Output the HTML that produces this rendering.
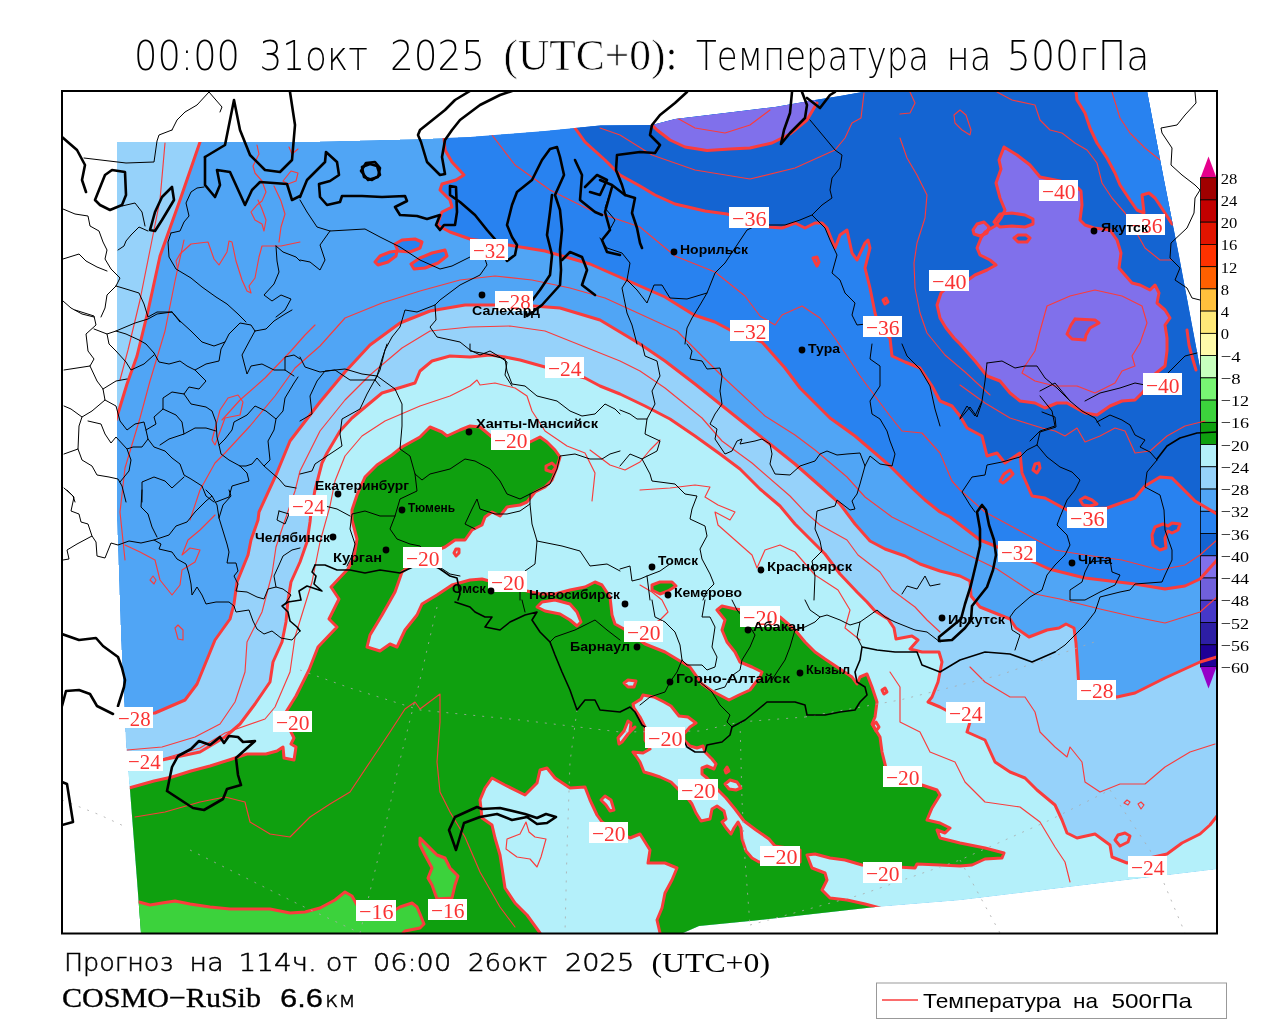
<!DOCTYPE html>
<html lang="ru"><head><meta charset="utf-8"><title>COSMO-RuSib: Температура на 500гПа</title>
<style>html,body{margin:0;padding:0;background:#fff}body{width:1280px;height:1024px;overflow:hidden}svg{display:block}.t{font-family:"Liberation Sans",sans-serif;fill:#000}.x{font-family:"DejaVu Sans Light","DejaVu Sans",sans-serif;font-weight:200;fill:#000}.s{font-family:"Liberation Serif",serif;fill:#000}.c{font-family:"Liberation Sans",sans-serif;font-weight:bold;font-size:13.5px;fill:#000}.l{font-family:"Liberation Serif",serif;font-size:22px;fill:#fa3232}.b{font-family:"Liberation Serif",serif;font-size:15.5px;fill:#000}</style></head><body>
<svg width="1280" height="1024" viewBox="0 0 1280 1024">
<rect width="1280" height="1024" fill="#fff"/>
<defs><clipPath id="dom"><polygon points="117,142 200,142 320,141.5 420,139 470,137 545,131 600,125.5 652,125 675,119 725,113 775,107 815,100 840,96 868,91 1147,91 1163,175 1179,256 1200,368 1217,458 1217,869 1100,883 960,900 880,906.5 813,914 755,920.5 699,926 683,933 141,933 137,880 130,790 126,742 121,640 117,520"/></clipPath><clipPath id="frame"><rect x="62" y="91" width="1155" height="842"/></clipPath></defs>
<g clip-path="url(#dom)" shape-rendering="crispEdges">
<polygon points="117,142 200,142 320,141.5 420,139 470,137 545,131 600,125.5 652,125 675,119 725,113 775,107 815,100 840,96 868,91 1147,91 1163,175 1179,256 1200,368 1217,458 1217,869 1100,883 960,900 880,906.5 813,914 755,920.5 699,926 683,933 141,933 137,880 130,790 126,742 121,640 117,520" fill="#50a5f5" />
<polygon points="117,142 200,142 180,200 160,256 148,311 137,356 127,384 116,420" fill="#96d2fa" />
<polygon points="444,138 445,150 452,162 464,175 456,180 442,184 440,190 450,200 452,207 442,212 437,225 450,232 470,239 508,245 545,251 590,264 640,286 665,297 694,315 715,322 730,330 762,342 785,368 800,388 830,418 855,436 890,466 912,488 925,500 940,512 950,517 980,540 995,546 1034,562 1049,569 1085,578 1135,584 1165,589 1185,586 1200,579 1217,560 1300,560 1300,0 444,0" fill="#2882f0" />
<polygon points="575,128 585,142 605,160 620,175 640,186 655,195 675,204 705,211 727,214 769,227 782,228 795,223 805,228 815,223 822,223 827,228 835,248 840,235 847,230 852,253 857,260 865,243 868,240 870,248 865,268 870,288 875,313 880,330 890,338 892,356 905,362 920,368 932,386 940,401 952,406 960,416 967,428 982,436 987,456 997,453 1005,463 1020,453 1022,473 1032,496 1045,498 1067,510 1107,508 1135,498 1145,486 1160,477 1172,478 1185,491 1195,501 1217,514 1300,514 1300,0 575,0" fill="#1464d2" />
<polygon points="1076,91 1077,100 1085,113 1090,128 1097,143 1107,158 1115,173 1120,185 1130,200 1137,210 1144,213 1142,195 1149,193 1155,198 1165,213 1172,224 1300,224 1300,0 1076,0" fill="#2882f0" />
<polygon points="652,125 657,130 670,140 685,147 707,150.5 730,149 750,148 772,143 790,134 807,120 817,103 815,100 775,107 725,113 675,119" fill="#8070eb" />
<polygon points="1004,147 1017,155 1030,165 1040,177 1060,181 1078,188 1081,191 1082,205 1080,220 1085,225 1094,228 1110,230 1117,240 1121,253 1119,268 1125,275 1132,283 1140,285 1150,290 1155,285 1159,293 1157,303 1165,310 1170,318 1165,325 1167,338 1167,351 1165,366 1155,374 1143,392 1135,400 1122,401 1110,406 1097,415 1085,413 1067,403 1057,403 1045,408 1035,403 1020,401 1010,393 1000,381 987,376 975,361 960,344 954,338 946,328 940,318 937,305 941,293 950,285 968,280 975,275 987,270 996,265 990,260 980,255 977,248 981,238 985,232 995,226 1001,218 1005,210 1000,198 996,183 1001,169 999,160" fill="#8070eb" />
<polygon points="1075,319 1095,320 1099,323 1090,328 1086,335 1085,340 1072,339 1067,334 1071,325" fill="#7060dc" />
<polygon points="126,715 155,713 185,700 197,684 215,640 230,619 234,604 237,582 248,555 251,540 258,520 259,512 276,475 290,441 310,415 320,402 345,372 370,345 400,323 430,311 465,305 520,305 560,308 600,320 640,344 665,361 695,384 720,404 745,424 770,444 795,464 820,486 840,504 855,524 870,541 885,549 905,556 920,564 940,571 960,576 970,581 971,596 980,607 1010,619 1016,628 1029,637 1047,630 1059,628 1066,624 1074,628 1076,643 1078,672 1079,690 1117,697 1135,693 1165,678 1200,662 1217,657 1217,869 1217,933 62,933 62,715" fill="#96d2fa" />
<polygon points="128,760 162,760 200,752 225,737 240,724 255,704 270,682 273,662 282,642 286,622 288,600 291,582 300,562 307,542 310,522 311,512 315,490 322,463 327,453 340,431 352,418 370,403 382,393 402,387 415,383 420,371 432,361 450,356 470,357 490,355 505,357 520,360 545,367 585,378 600,386 620,394 645,406 670,419 695,436 720,454 740,469 760,489 780,506 795,524 810,539 825,554 840,574 857,592 867,602 875,611 888,619 894,628 896,639 912,636 918,640 910,649 922,652 939,652 942,662 938,682 932,697 928,702 940,707 955,715 970,722 967,732 985,740 995,762 1010,772 1025,778 1037,790 1055,805 1062,820 1067,833 1077,838 1095,834 1110,845 1112,857 1127,863 1167,854 1182,843 1200,834 1210,825 1217,816 1217,869 1217,933 62,933 62,760" fill="#b4f0fa" />
<polygon points="129,788 154,781 172,777 191,771 210,766 229,760 247,754 266,754 277,751 283,747 284,758 294,760 296,747 291,744 294,738 290,730 286,712 296,696 309,670 318,647 337,627 329,619 339,599 331,587 348,569 354,557 357,539 352,520 352,510 357,495 365,477 377,465 392,455 402,447 420,437 430,427 442,432 447,436 460,430 470,426 480,427 492,437 530,442 540,437 547,442 555,450 560,457 557,467 552,480 545,487 535,492 527,502 520,505 507,507 500,516 492,512 485,517 482,525 472,530 465,540 455,540 445,547 425,555 402,572 395,592 382,615 370,635 367,647 380,651 390,644 397,647 405,630 417,615 422,604 437,595 452,585 470,580 482,579 527,591 540,594 555,594 570,590 585,587 595,582 602,585 610,597 612,615 615,624 624,629 645,644 665,652 690,667 702,684 712,691 729,700 739,695 750,690 756,682 760,677 762,672 752,667 740,662 735,652 727,642 722,630 725,620 717,610 722,606 735,609 760,612 780,617 795,630 805,642 815,652 825,659 840,669 852,677 857,684 860,677 867,674 872,687 877,702 875,717 872,724 880,737 882,752 886,768 922,785 937,790 940,795 932,808 927,820 940,823 950,828 945,833 937,830 940,838 960,843 985,848 1004,853 1002,858 985,859 972,865 960,866 940,865 917,864 915,868 862,865 845,860 830,858 815,854 807,855 812,868 825,873 827,880 822,890 830,898 847,900 865,904 880,908 880,940 62,940 62,788" fill="#0fa00f" />
<polygon points="537,607 542,602 555,600 570,604 577,612 581,622 577,626 570,620 560,614 545,611" fill="#b4f0fa" />
<polygon points="540,933 527,915 515,903 505,888 502,868 500,855 495,838 492,825 482,818 480,800 485,788 492,778 505,785 525,795 537,783 540,770 547,768 555,778 570,788 585,787 590,800 597,815 602,822 630,838 640,834 650,850 648,863 665,863 677,868 672,880 665,893 662,908 657,920 660,933" fill="#b4f0fa" />
<polygon points="643,695 654,697 664,702 671,706 679,716 688,717 696,723 690,727 684,734 684,740 690,746 697,748 703,746 705,752 712,759 716,764 714,769 707,766 702,768 702,774 707,778 718,790 726,798 735,809 744,821 756,830 769,839 775,846 800,850 800,862 759,862 752,858 746,851 742,839 741,828 738,822 734,828 731,834 726,828 722,822 726,819 724,811 717,806 712,809 710,819 701,821 696,813 692,804 689,800 678,789 671,782 660,777 651,774 644,772 640,762 636,756 633,752 643,753 650,749 645,740 645,727 640,717 634,708 633,704 641,699" fill="#b4f0fa" />
<polygon points="139,902 150,905 162,903 175,901 190,904 210,907 230,909 250,909 270,909 290,913 305,912 320,908 335,900 345,892 352,896 357,905 395,910 400,907 412,903 417,907 420,914 424,924 420,928 405,931 403,933 403,940 62,940 62,902" fill="#3cd23c" />
<polygon points="420,838 428,846 437,855 445,858 450,868 458,876 455,885 452,898 437,899 432,885 428,878 432,868 425,855 420,845" fill="#3cd23c" />
<polygon points="375,262 380,256 390,252 397,251 396,256 388,262 378,265" fill="#2882f0" />
<polygon points="395,244 402,240 415,239 422,242 420,248 410,252 398,251" fill="#2882f0" />
<polygon points="411,264 420,258 432,253 445,250 447,256 438,263 425,268 414,269" fill="#2882f0" />
<polygon points="973,230 977,224 984,222 989,227 987,233 980,236 974,234" fill="#8070eb" />
<polygon points="994,222 1000,214 1012,213 1025,215 1033,219 1033,224 1025,227 1012,226 1000,227" fill="#1464d2" />
<polygon points="1014,238 1018,235 1026,235 1030,238 1027,242 1018,242" fill="#1464d2" />
<polygon points="1152,535 1155,527 1163,524 1168,526 1172,523 1180,524 1178,530 1172,533 1168,531 1165,538 1166,548 1160,550 1153,545" fill="#1464d2" />
<polygon points="652,585 660,582 672,582 676,586 668,591 660,594 652,590" fill="#0fa00f" />
<polygon points="725,784 730,780 737,782 741,788 736,790 729,789" fill="#b4f0fa" />
<polygon points="619,744 618,738 624,731 628,721 631,723 630,731 635,727 628,734 622,742" fill="#b4f0fa" />
<polygon points="601,800 605,796 611,800 614,810 610,811 606,805" fill="#b4f0fa" />
<polygon points="624,683 628,680 636,681 634,687 628,687" fill="#b4f0fa" />
</g>
<polygon points="1208.5,156.5 1216.5,177.7 1200.5,177.7" fill="#e6008c"/>
<rect x="1200.5" y="177.7" width="16" height="22.2" fill="#a00000" stroke="#000" stroke-width="0.8"/>
<rect x="1200.5" y="199.9" width="16" height="22.2" fill="#c30000" stroke="#000" stroke-width="0.8"/>
<rect x="1200.5" y="222.2" width="16" height="22.2" fill="#e11400" stroke="#000" stroke-width="0.8"/>
<rect x="1200.5" y="244.4" width="16" height="22.2" fill="#ff3200" stroke="#000" stroke-width="0.8"/>
<rect x="1200.5" y="266.7" width="16" height="22.2" fill="#ff6000" stroke="#000" stroke-width="0.8"/>
<rect x="1200.5" y="288.9" width="16" height="22.2" fill="#ffc03c" stroke="#000" stroke-width="0.8"/>
<rect x="1200.5" y="311.1" width="16" height="22.2" fill="#ffe878" stroke="#000" stroke-width="0.8"/>
<rect x="1200.5" y="333.4" width="16" height="22.2" fill="#fffaaa" stroke="#000" stroke-width="0.8"/>
<rect x="1200.5" y="355.6" width="16" height="22.2" fill="#c8ffbe" stroke="#000" stroke-width="0.8"/>
<rect x="1200.5" y="377.9" width="16" height="22.2" fill="#78f573" stroke="#000" stroke-width="0.8"/>
<rect x="1200.5" y="400.1" width="16" height="22.2" fill="#3cd23c" stroke="#000" stroke-width="0.8"/>
<rect x="1200.5" y="422.4" width="16" height="22.2" fill="#0fa00f" stroke="#000" stroke-width="0.8"/>
<rect x="1200.5" y="444.6" width="16" height="22.2" fill="#b4f0fa" stroke="#000" stroke-width="0.8"/>
<rect x="1200.5" y="466.8" width="16" height="22.2" fill="#96d2fa" stroke="#000" stroke-width="0.8"/>
<rect x="1200.5" y="489.1" width="16" height="22.2" fill="#50a5f5" stroke="#000" stroke-width="0.8"/>
<rect x="1200.5" y="511.3" width="16" height="22.2" fill="#2882f0" stroke="#000" stroke-width="0.8"/>
<rect x="1200.5" y="533.6" width="16" height="22.2" fill="#1464d2" stroke="#000" stroke-width="0.8"/>
<rect x="1200.5" y="555.8" width="16" height="22.2" fill="#8070eb" stroke="#000" stroke-width="0.8"/>
<rect x="1200.5" y="578" width="16" height="22.2" fill="#7060dc" stroke="#000" stroke-width="0.8"/>
<rect x="1200.5" y="600.3" width="16" height="22.2" fill="#4638c8" stroke="#000" stroke-width="0.8"/>
<rect x="1200.5" y="622.5" width="16" height="22.2" fill="#2d1ea5" stroke="#000" stroke-width="0.8"/>
<rect x="1200.5" y="644.8" width="16" height="22.2" fill="#1e0096" stroke="#000" stroke-width="0.8"/>
<polygon points="1200.5,667 1216.5,667 1208.5,688.5" fill="#9600c8"/>
<g clip-path="url(#dom)">
<polyline points="165,143 160,200 150,250 140,300 128,350 120,380" fill="none" stroke="#fa3c3c" stroke-width="1.15" stroke-linejoin="round" stroke-linecap="round" />
<polyline points="184,240 175,281 165,331 150,381 140,418 125,468 120,512 125,560" fill="none" stroke="#fa3c3c" stroke-width="1.15" stroke-linejoin="round" stroke-linecap="round" />
<polyline points="190,520 200,490 215,463 225,453 250,426 275,396 295,368 320,346 345,318 382,303 420,291 460,280 495,276 532,280 570,288 605,298 640,314 677,331 722,376 765,416 795,435 815,450 847,477 865,497 892,517 922,532 960,551 997,569 1035,594 1060,599 1100,609 1135,617 1165,623 1200,612 1217,597" fill="none" stroke="#fa3c3c" stroke-width="1.15" stroke-linejoin="round" stroke-linecap="round" />
<polyline points="127,750 162,747 195,737 220,724 235,702 245,672 247,642 262,612 272,574 276,547 285,520 295,491 300,471 320,431 345,400 370,375 402,348 430,331 470,327 510,326 545,331 570,341 595,351 620,361 640,371 665,388 702,418 722,441 752,463 790,496 805,512 820,525 847,540 858,555 880,572 892,590 915,607 927,620 940,632" fill="none" stroke="#fa3c3c" stroke-width="1.15" stroke-linejoin="round" stroke-linecap="round" />
<polyline points="162,759 200,748 225,733 265,719 275,707 290,672 295,637 312,582 320,542 330,506 335,481 345,456 362,436 385,421 420,406 450,396 470,386 477,380 480,385 495,383 515,388 527,396 532,411 545,431 567,446 585,453 595,473 592,501" fill="none" stroke="#fa3c3c" stroke-width="1.15" stroke-linejoin="round" stroke-linecap="round" />
<polyline points="492,135 515,165 550,190 590,210 640,227 675,256 715,272 745,296 760,316 775,325 782,315 802,306 820,318 835,338 847,356 860,376 875,396 890,416 902,431 922,433 940,453 952,481 960,490 985,512 1022,532 1055,550 1085,555 1122,560 1160,570 1185,565 1200,555 1217,540" fill="none" stroke="#fa3c3c" stroke-width="1.15" stroke-linejoin="round" stroke-linecap="round" />
<polyline points="600,128 620,135 652,155 695,170 750,179 795,168 835,150 845,138 852,123 861,118 864,93" fill="none" stroke="#fa3c3c" stroke-width="1.15" stroke-linejoin="round" stroke-linecap="round" />
<polyline points="677,118 695,128 725,133 750,125 770,110" fill="none" stroke="#fa3c3c" stroke-width="1.15" stroke-linejoin="round" stroke-linecap="round" />
<polyline points="997,92 1012,100 1035,105 1040,120 1050,130 1062,133 1075,143 1087,150 1097,163 1102,183 1112,198 1125,213 1135,230 1145,248 1160,260 1172,260" fill="none" stroke="#fa3c3c" stroke-width="1.15" stroke-linejoin="round" stroke-linecap="round" />
<polyline points="1112,92 1120,118 1130,133 1145,148 1160,160" fill="none" stroke="#fa3c3c" stroke-width="1.15" stroke-linejoin="round" stroke-linecap="round" />
<polyline points="900,138 907,158 917,175 927,195 925,218 917,243 914,263 915,288 920,313 927,333 945,355 965,372 990,395" fill="none" stroke="#fa3c3c" stroke-width="1.15" stroke-linejoin="round" stroke-linecap="round" />
<polyline points="910,92 915,103 910,113 900,114" fill="none" stroke="#fa3c3c" stroke-width="1.15" stroke-linejoin="round" stroke-linecap="round" />
<polyline points="954,115 960,110 966,115 971,130 970,135 962,130 955,123 954,115" fill="none" stroke="#fa3c3c" stroke-width="1.15" stroke-linejoin="round" stroke-linecap="round" />
<polyline points="960,385 985,403 1010,418 1042,428 1055,431 1065,436 1077,428 1085,442 1100,436 1115,428 1125,431 1135,453 1150,451 1167,436 1185,426 1205,421" fill="none" stroke="#fa3c3c" stroke-width="1.15" stroke-linejoin="round" stroke-linecap="round" />
<polyline points="1047,306 1070,296 1095,290 1122,296 1142,306 1147,323 1140,343 1132,356 1135,366 1122,371 1115,383 1095,393 1077,386 1055,386 1035,381 1022,373 1025,366 1035,351 1040,331 1047,306" fill="none" stroke="#fa3c3c" stroke-width="1.15" stroke-linejoin="round" stroke-linecap="round" />
<polyline points="135,817 165,812 200,802 225,797 245,802 250,822 270,834 290,837 310,817 330,804 350,792 370,762 390,732 405,709 415,702 420,709 440,694 440,722 437,762 440,792 450,812 465,837 480,872 500,907 515,927" fill="none" stroke="#fa3c3c" stroke-width="1.15" stroke-linejoin="round" stroke-linecap="round" />
<polyline points="1124,803 1127,800 1130,802 1128,805 1124,803" fill="none" stroke="#fa3c3c" stroke-width="1.15" stroke-linejoin="round" stroke-linecap="round" />
<polyline points="1138,804 1141,802 1144,805 1141,809 1138,804" fill="none" stroke="#fa3c3c" stroke-width="1.15" stroke-linejoin="round" stroke-linecap="round" />
<polyline points="970,667 985,682 1010,697 1025,697 1035,712 1040,732 1055,747 1067,757 1070,747 1082,762 1085,782 1100,792 1120,784 1145,784 1165,767 1190,752 1215,744" fill="none" stroke="#fa3c3c" stroke-width="1.15" stroke-linejoin="round" stroke-linecap="round" />
<polyline points="890,672 900,687 900,722 920,732 930,752 955,762 965,782 985,802 1020,807 1040,822 1055,847 1065,862 1070,882" fill="none" stroke="#fa3c3c" stroke-width="1.15" stroke-linejoin="round" stroke-linecap="round" />
<polyline points="640,490 670,488 695,485 710,487 705,497 718,505 735,512 730,520 715,512 718,525 735,540 752,555 757,568 765,550 780,545 795,552 815,575 838,590 850,610 845,628 860,640" fill="none" stroke="#fa3c3c" stroke-width="1.15" stroke-linejoin="round" stroke-linecap="round" />
<polyline points="178,271 176,261 180,254 191,244 208,242 214,259 219,265 227,252 229,241 232,242 236,261 242,280 247,291 251,293 249,286 255,278 259,257 262,246 281,246 300,242" fill="none" stroke="#fa3c3c" stroke-width="1.15" stroke-linejoin="round" stroke-linecap="round" />
<polyline points="257,145 259,154 253,166 255,173 262,181 266,192 262,201 257,205 251,212 255,220 262,224 264,231 266,220 262,209 258,200" fill="none" stroke="#fa3c3c" stroke-width="1.15" stroke-linejoin="round" stroke-linecap="round" />
<polyline points="274,186 281,201 285,214 281,227 279,242" fill="none" stroke="#fa3c3c" stroke-width="1.15" stroke-linejoin="round" stroke-linecap="round" />
<polyline points="289,147 292,154 298,149" fill="none" stroke="#fa3c3c" stroke-width="1.15" stroke-linejoin="round" stroke-linecap="round" />
<polyline points="283,181 291,171 298,173 296,181 288,184 283,181" fill="none" stroke="#fa3c3c" stroke-width="1.15" stroke-linejoin="round" stroke-linecap="round" />
<polyline points="215,445 225,418 240,415 243,402 238,395 228,398 220,410 212,440 215,445" fill="none" stroke="#fa3c3c" stroke-width="1.15" stroke-linejoin="round" stroke-linecap="round" />
<polyline points="222,420 240,400 265,378 290,352 305,335 315,325" fill="none" stroke="#fa3c3c" stroke-width="1.15" stroke-linejoin="round" stroke-linecap="round" />
<polyline points="125,545 140,552 155,560 160,580 172,595 180,585 182,570 195,562 200,550 190,548 182,555 188,540 200,530 210,520 215,515" fill="none" stroke="#fa3c3c" stroke-width="1.15" stroke-linejoin="round" stroke-linecap="round" />
<polyline points="150,580 153,576 156,580 154,584 150,580" fill="none" stroke="#fa3c3c" stroke-width="1.15" stroke-linejoin="round" stroke-linecap="round" />
<polyline points="175,628 178,625 183,630 183,640 178,639 175,628" fill="none" stroke="#fa3c3c" stroke-width="1.15" stroke-linejoin="round" stroke-linecap="round" />
<polyline points="526,822 520,834 507,839 506,849 517,857 530,859 537,867 541,857 546,839 535,837 529,832 526,822" fill="none" stroke="#fa3c3c" stroke-width="1.15" stroke-linejoin="round" stroke-linecap="round" />
<polyline points="640,585 652,592 662,600 668,612 660,620 650,625" fill="none" stroke="#fa3c3c" stroke-width="1.15" stroke-linejoin="round" stroke-linecap="round" />
<polyline points="590,450 610,465 625,470 640,462 650,450 660,440" fill="none" stroke="#fa3c3c" stroke-width="1.15" stroke-linejoin="round" stroke-linecap="round" />
<polyline points="1120,933 1140,915 1165,905 1190,903 1217,901" fill="none" stroke="#fa3c3c" stroke-width="1.15" stroke-linejoin="round" stroke-linecap="round" />
</g>
<g clip-path="url(#dom)">
<polyline points="200,142 180,200 160,256 148,311 137,356 127,384 116,420" fill="none" stroke="#fa3c3c" stroke-width="3" stroke-linejoin="round" stroke-linecap="round" />
<polyline points="126,715 155,713 185,700 197,684 215,640 230,619 234,604 237,582 248,555 251,540 258,520 259,512 276,475 290,441 310,415 320,402 345,372 370,345 400,323 430,311 465,305 520,305 560,308 600,320 640,344 665,361 695,384 720,404 745,424 770,444 795,464 820,486 840,504 855,524 870,541 885,549 905,556 920,564 940,571 960,576 970,581 971,596 980,607 1010,619 1016,628 1029,637 1047,630 1059,628 1066,624 1074,628 1076,643 1078,672 1079,690 1117,697 1135,693 1165,678 1200,662 1217,657" fill="none" stroke="#fa3c3c" stroke-width="3" stroke-linejoin="round" stroke-linecap="round" />
<polyline points="128,760 162,760 200,752 225,737 240,724 255,704 270,682 273,662 282,642 286,622 288,600 291,582 300,562 307,542 310,522 311,512 315,490 322,463 327,453 340,431 352,418 370,403 382,393 402,387 415,383 420,371 432,361 450,356 470,357 490,355 505,357 520,360 545,367 585,378 600,386 620,394 645,406 670,419 695,436 720,454 740,469 760,489 780,506 795,524 810,539 825,554 840,574 857,592 867,602 875,611 888,619 894,628 896,639 912,636 918,640 910,649 922,652 939,652 942,662 938,682 932,697 928,702 940,707 955,715 970,722 967,732 985,740 995,762 1010,772 1025,778 1037,790 1055,805 1062,820 1067,833 1077,838 1095,834 1110,845 1112,857 1127,863 1167,854 1182,843 1200,834 1210,825 1217,816" fill="none" stroke="#fa3c3c" stroke-width="3" stroke-linejoin="round" stroke-linecap="round" />
<polyline points="444,138 445,150 452,162 464,175 456,180 442,184 440,190 450,200 452,207 442,212 437,225 450,232 470,239 508,245 545,251 590,264 640,286 665,297 694,315 715,322 730,330 762,342 785,368 800,388 830,418 855,436 890,466 912,488 925,500 940,512 950,517 980,540 995,546 1034,562 1049,569 1085,578 1135,584 1165,589 1185,586 1200,579 1217,560" fill="none" stroke="#fa3c3c" stroke-width="3" stroke-linejoin="round" stroke-linecap="round" />
<polyline points="575,128 585,142 605,160 620,175 640,186 655,195 675,204 705,211 727,214 769,227 782,228 795,223 805,228 815,223 822,223 827,228 835,248 840,235 847,230 852,253 857,260 865,243 868,240 870,248 865,268 870,288 875,313 880,330 890,338 892,356 905,362 920,368 932,386 940,401 952,406 960,416 967,428 982,436 987,456 997,453 1005,463 1020,453 1022,473 1032,496 1045,498 1067,510 1107,508 1135,498 1145,486 1160,477 1172,478 1185,491 1195,501 1217,514" fill="none" stroke="#fa3c3c" stroke-width="3" stroke-linejoin="round" stroke-linecap="round" />
<polyline points="1076,91 1077,100 1085,113 1090,128 1097,143 1107,158 1115,173 1120,185 1130,200 1137,210 1144,213 1142,195 1149,193 1155,198 1165,213 1172,224" fill="none" stroke="#fa3c3c" stroke-width="3" stroke-linejoin="round" stroke-linecap="round" />
<polyline points="652,125 657,130 670,140 685,147 707,150.5 730,149 750,148 772,143 790,134 807,120 817,103" fill="none" stroke="#fa3c3c" stroke-width="3" stroke-linejoin="round" stroke-linecap="round" />
<polyline points="1004,147 1017,155 1030,165 1040,177 1060,181 1078,188 1081,191 1082,205 1080,220 1085,225 1094,228 1110,230 1117,240 1121,253 1119,268 1125,275 1132,283 1140,285 1150,290 1155,285 1159,293 1157,303 1165,310 1170,318 1165,325 1167,338 1167,351 1165,366 1155,374 1143,392 1135,400 1122,401 1110,406 1097,415 1085,413 1067,403 1057,403 1045,408 1035,403 1020,401 1010,393 1000,381 987,376 975,361 960,344 954,338 946,328 940,318 937,305 941,293 950,285 968,280 975,275 987,270 996,265 990,260 980,255 977,248 981,238 985,232 995,226 1001,218 1005,210 1000,198 996,183 1001,169 999,160 1004,147" fill="none" stroke="#fa3c3c" stroke-width="3" stroke-linejoin="round" stroke-linecap="round" />
<polyline points="1075,319 1095,320 1099,323 1090,328 1086,335 1085,340 1072,339 1067,334 1071,325 1075,319" fill="none" stroke="#fa3c3c" stroke-width="3" stroke-linejoin="round" stroke-linecap="round" />
<polyline points="129,788 154,781 172,777 191,771 210,766 229,760 247,754 266,754 277,751 283,747 284,758 294,760 296,747 291,744 294,738 290,730 286,712 296,696 309,670 318,647 337,627 329,619 339,599 331,587 348,569 354,557 357,539 352,520 352,510 357,495 365,477 377,465 392,455 402,447 420,437 430,427 442,432 447,436 460,430 470,426 480,427 492,437 530,442 540,437 547,442 555,450 560,457 557,467 552,480 545,487 535,492 527,502 520,505 507,507 500,516 492,512 485,517 482,525 472,530 465,540 455,540 445,547 425,555 402,572 395,592 382,615 370,635 367,647 380,651 390,644 397,647 405,630 417,615 422,604 437,595 452,585 470,580 482,579 527,591 540,594 555,594 570,590 585,587 595,582 602,585 610,597 612,615 615,624 624,629 645,644 665,652 690,667 702,684 712,691 729,700 739,695 750,690 756,682 760,677 762,672 752,667 740,662 735,652 727,642 722,630 725,620 717,610 722,606 735,609 760,612 780,617 795,630 805,642 815,652 825,659 840,669 852,677 857,684 860,677 867,674 872,687 877,702 875,717 872,724 880,737 882,752 886,768 922,785 937,790 940,795 932,808 927,820 940,823 950,828 945,833 937,830 940,838 960,843 985,848 1004,853 1002,858 985,859 972,865 960,866 940,865 917,864 915,868 862,865 845,860 830,858 815,854 807,855 812,868 825,873 827,880 822,890 830,898 847,900 865,904 880,908" fill="none" stroke="#fa3c3c" stroke-width="3" stroke-linejoin="round" stroke-linecap="round" />
<polyline points="139,902 150,905 162,903 175,901 190,904 210,907 230,909 250,909 270,909 290,913 305,912 320,908 335,900 345,892 352,896 357,905 395,910 400,907 412,903 417,907 420,914 424,924 420,928 405,931 403,933" fill="none" stroke="#fa3c3c" stroke-width="3" stroke-linejoin="round" stroke-linecap="round" />
<polyline points="420,838 428,846 437,855 445,858 450,868 458,876 455,885 452,898 437,899 432,885 428,878 432,868 425,855 420,845 420,838" fill="none" stroke="#fa3c3c" stroke-width="3" stroke-linejoin="round" stroke-linecap="round" />
<polyline points="537,607 542,602 555,600 570,604 577,612 581,622 577,626 570,620 560,614 545,611 537,607" fill="none" stroke="#fa3c3c" stroke-width="3" stroke-linejoin="round" stroke-linecap="round" />
<polyline points="540,933 527,915 515,903 505,888 502,868 500,855 495,838 492,825 482,818 480,800 485,788 492,778 505,785 525,795 537,783 540,770 547,768 555,778 570,788 585,787 590,800 597,815 602,822 630,838 640,834 650,850 648,863 665,863 677,868 672,880 665,893 662,908 657,920 660,933" fill="none" stroke="#fa3c3c" stroke-width="3" stroke-linejoin="round" stroke-linecap="round" />
<polyline points="643,695 654,697 664,702 671,706 679,716 688,717 696,723 690,727 684,734 684,740 690,746 697,748 703,746 705,752 712,759 716,764 714,769 707,766 702,768 702,774 707,778 718,790 726,798 735,809 744,821 756,830 769,839 775,846 800,850 800,862 759,862 752,858 746,851 742,839 741,828 738,822 734,828 731,834 726,828 722,822 726,819 724,811 717,806 712,809 710,819 701,821 696,813 692,804 689,800 678,789 671,782 660,777 651,774 644,772 640,762 636,756 633,752 643,753 650,749 645,740 645,727 640,717 634,708 633,704 641,699 643,695" fill="none" stroke="#fa3c3c" stroke-width="3" stroke-linejoin="round" stroke-linecap="round" />
<polyline points="375,262 380,256 390,252 397,251 396,256 388,262 378,265 375,262" fill="none" stroke="#fa3c3c" stroke-width="3" stroke-linejoin="round" stroke-linecap="round" />
<polyline points="395,244 402,240 415,239 422,242 420,248 410,252 398,251 395,244" fill="none" stroke="#fa3c3c" stroke-width="3" stroke-linejoin="round" stroke-linecap="round" />
<polyline points="411,264 420,258 432,253 445,250 447,256 438,263 425,268 414,269 411,264" fill="none" stroke="#fa3c3c" stroke-width="3" stroke-linejoin="round" stroke-linecap="round" />
<polyline points="973,230 977,224 984,222 989,227 987,233 980,236 974,234 973,230" fill="none" stroke="#fa3c3c" stroke-width="3" stroke-linejoin="round" stroke-linecap="round" />
<polyline points="994,222 1000,214 1012,213 1025,215 1033,219 1033,224 1025,227 1012,226 1000,227 994,222" fill="none" stroke="#fa3c3c" stroke-width="3" stroke-linejoin="round" stroke-linecap="round" />
<polyline points="1014,238 1018,235 1026,235 1030,238 1027,242 1018,242 1014,238" fill="none" stroke="#fa3c3c" stroke-width="3" stroke-linejoin="round" stroke-linecap="round" />
<polyline points="1152,535 1155,527 1163,524 1168,526 1172,523 1180,524 1178,530 1172,533 1168,531 1165,538 1166,548 1160,550 1153,545 1152,535" fill="none" stroke="#fa3c3c" stroke-width="3" stroke-linejoin="round" stroke-linecap="round" />
<polyline points="652,585 660,582 672,582 676,586 668,591 660,594 652,590 652,585" fill="none" stroke="#fa3c3c" stroke-width="3" stroke-linejoin="round" stroke-linecap="round" />
<polyline points="725,784 730,780 737,782 741,788 736,790 729,789 725,784" fill="none" stroke="#fa3c3c" stroke-width="3" stroke-linejoin="round" stroke-linecap="round" />
<polyline points="619,744 618,738 624,731 628,721 631,723 630,731 635,727 628,734 622,742 619,744" fill="none" stroke="#fa3c3c" stroke-width="3" stroke-linejoin="round" stroke-linecap="round" />
<polyline points="601,800 605,796 611,800 614,810 610,811 606,805 601,800" fill="none" stroke="#fa3c3c" stroke-width="3" stroke-linejoin="round" stroke-linecap="round" />
<polyline points="624,683 628,680 636,681 634,687 628,687 624,683" fill="none" stroke="#fa3c3c" stroke-width="3" stroke-linejoin="round" stroke-linecap="round" />
<polyline points="1080,500 1085,497 1092,500 1097,504 1090,506 1083,505 1080,500" fill="none" stroke="#fa3c3c" stroke-width="3" stroke-linejoin="round" stroke-linecap="round" />
<polyline points="1000,481 1004,474 1010,470 1013,474 1008,479 1003,483 1000,481" fill="none" stroke="#fa3c3c" stroke-width="3" stroke-linejoin="round" stroke-linecap="round" />
<polyline points="1033,470 1035,464 1039,463 1040,468 1037,473 1033,470" fill="none" stroke="#fa3c3c" stroke-width="3" stroke-linejoin="round" stroke-linecap="round" />
<polyline points="813,258 815,262 817,266 819,262 817,257 813,258" fill="none" stroke="#fa3c3c" stroke-width="3" stroke-linejoin="round" stroke-linecap="round" />
<polyline points="883,300 885,304 888,302 886,298 883,300" fill="none" stroke="#fa3c3c" stroke-width="3" stroke-linejoin="round" stroke-linecap="round" />
<polyline points="1187,330 1189,345 1193,360 1196,370" fill="none" stroke="#fa3c3c" stroke-width="3" stroke-linejoin="round" stroke-linecap="round" />
<polyline points="1115,840 1118,835 1125,833 1130,836 1128,842 1120,846 1115,840" fill="none" stroke="#fa3c3c" stroke-width="3" stroke-linejoin="round" stroke-linecap="round" />
<polyline points="454,553 456,549 459,549 459,553 456,556 454,553" fill="none" stroke="#fa3c3c" stroke-width="3" stroke-linejoin="round" stroke-linecap="round" />
<polyline points="725,770 727,767 729,771 726,773 725,770" fill="none" stroke="#fa3c3c" stroke-width="3" stroke-linejoin="round" stroke-linecap="round" />
<polyline points="882,690 885,688 887,692 884,694 882,690" fill="none" stroke="#fa3c3c" stroke-width="3" stroke-linejoin="round" stroke-linecap="round" />
<polyline points="873,725 876,722 879,727 876,731 873,725" fill="none" stroke="#fa3c3c" stroke-width="3" stroke-linejoin="round" stroke-linecap="round" />
<polyline points="546,466 552,463 556,467 552,472 546,470 546,466" fill="none" stroke="#fa3c3c" stroke-width="3" stroke-linejoin="round" stroke-linecap="round" />
</g>
<g clip-path="url(#frame)">
<polyline points="300,670 350,688 420,710 440,712 520,720 620,732 700,731 740,722 805,717" fill="none" stroke="#aaa" stroke-width="1" stroke-dasharray="2 7" opacity="0.8"/>
<polyline points="437,607 420,680 400,760 380,850 360,933" fill="none" stroke="#aaa" stroke-width="1" stroke-dasharray="2 7" opacity="0.8"/>
<polyline points="577,710 570,762 567,850 565,933" fill="none" stroke="#aaa" stroke-width="1" stroke-dasharray="2 7" opacity="0.8"/>
<polyline points="740,722 742,800 745,860 750,925" fill="none" stroke="#aaa" stroke-width="1" stroke-dasharray="2 7" opacity="0.8"/>
<polyline points="190,850 250,880 300,905 360,933" fill="none" stroke="#aaa" stroke-width="1" stroke-dasharray="2 7" opacity="0.8"/>
<polyline points="805,717 900,700 1000,675 1100,640" fill="none" stroke="#aaa" stroke-width="1" stroke-dasharray="2 7" opacity="0.8"/>
<polyline points="750,925 860,895 960,860 1050,820 1110,790" fill="none" stroke="#aaa" stroke-width="1" stroke-dasharray="2 7" opacity="0.8"/>
<polyline points="1110,790 1150,850 1185,933" fill="none" stroke="#aaa" stroke-width="1" stroke-dasharray="2 7" opacity="0.8"/>
<polyline points="960,860 1000,933" fill="none" stroke="#aaa" stroke-width="1" stroke-dasharray="2 7" opacity="0.8"/>
<polyline points="62,800 100,815 128,828" fill="none" stroke="#aaa" stroke-width="1" stroke-dasharray="2 7" opacity="0.8"/>
<polyline points="209,92 197,105 185,112 177,120 172,130" fill="none" stroke="#000" stroke-width="1" stroke-linejoin="round" stroke-linecap="round" />
<polyline points="209,92 222,107 220,112" fill="none" stroke="#000" stroke-width="1" stroke-linejoin="round" stroke-linecap="round" />
<polyline points="172,130 159,135 157,141 154,162 126,163 84,158" fill="none" stroke="#000" stroke-width="1" stroke-linejoin="round" stroke-linecap="round" />
<polyline points="122,206 135,203 142,212 145,226" fill="none" stroke="#000" stroke-width="1" stroke-linejoin="round" stroke-linecap="round" />
<polyline points="148,231 139,227 131,235 126,241 124,246 118,250" fill="none" stroke="#000" stroke-width="1" stroke-linejoin="round" stroke-linecap="round" />
<polyline points="171,233 180,231 184,222 189,216 186,203 191,192 197,188 204,187" fill="none" stroke="#000" stroke-width="1" stroke-linejoin="round" stroke-linecap="round" />
<polyline points="171,233 168,242 169,257 176,269 191,278 202,287 216,297 227,304 238,314 246,322" fill="none" stroke="#000" stroke-width="1" stroke-linejoin="round" stroke-linecap="round" />
<polyline points="63,209 75,214 88,216 90,226 99,231 103,242 107,250 105,259 111,269 120,278 116,286 107,295 105,308 101,317" fill="none" stroke="#000" stroke-width="1" stroke-linejoin="round" stroke-linecap="round" />
<polyline points="63,259 79,254 86,261 97,267 107,271" fill="none" stroke="#000" stroke-width="1" stroke-linejoin="round" stroke-linecap="round" />
<polyline points="116,286 126,289 139,293 144,304 148,317 157,312 172,312 180,322" fill="none" stroke="#000" stroke-width="1" stroke-linejoin="round" stroke-linecap="round" />
<polyline points="63,301 71,308 82,314 94,317" fill="none" stroke="#000" stroke-width="1" stroke-linejoin="round" stroke-linecap="round" />
<polyline points="276,246 283,252 296,257 300,261" fill="none" stroke="#000" stroke-width="1" stroke-linejoin="round" stroke-linecap="round" />
<polyline points="276,246 277,261 279,272 274,284 264,295 272,301 281,295 291,299 285,310 276,317" fill="none" stroke="#000" stroke-width="1" stroke-linejoin="round" stroke-linecap="round" />
<polyline points="75,310 94,316 96,325 86,334 88,351 94,359 90,366 64,370" fill="none" stroke="#000" stroke-width="1" stroke-linejoin="round" stroke-linecap="round" />
<polyline points="90,366 97,381 103,389 105,400 92,411 82,417 71,409 64,406" fill="none" stroke="#000" stroke-width="1" stroke-linejoin="round" stroke-linecap="round" />
<polyline points="103,389 116,381 127,379" fill="none" stroke="#000" stroke-width="1" stroke-linejoin="round" stroke-linecap="round" />
<polyline points="105,400 116,406 120,421 127,430 135,424 144,422 146,430 148,439 142,447 133,447 127,449 116,437 111,443 105,434 101,424 88,421" fill="none" stroke="#000" stroke-width="1" stroke-linejoin="round" stroke-linecap="round" />
<polyline points="82,417 79,426 78,449 64,454" fill="none" stroke="#000" stroke-width="1" stroke-linejoin="round" stroke-linecap="round" />
<polyline points="78,449 82,460 92,466 97,475 109,477 118,479 122,486 126,502" fill="none" stroke="#000" stroke-width="1" stroke-linejoin="round" stroke-linecap="round" />
<polyline points="127,449 131,460 129,471 120,482" fill="none" stroke="#000" stroke-width="1" stroke-linejoin="round" stroke-linecap="round" />
<polyline points="64,488 73,496 75,502" fill="none" stroke="#000" stroke-width="1" stroke-linejoin="round" stroke-linecap="round" />
<polyline points="94,329 107,334 116,331 126,334 139,340 146,344 154,353" fill="none" stroke="#000" stroke-width="1" stroke-linejoin="round" stroke-linecap="round" />
<polyline points="116,331 135,323 148,319 157,314 172,312" fill="none" stroke="#000" stroke-width="1" stroke-linejoin="round" stroke-linecap="round" />
<polyline points="107,334 109,344 116,351 126,362 131,370 144,364 154,355" fill="none" stroke="#000" stroke-width="1" stroke-linejoin="round" stroke-linecap="round" />
<polyline points="172,312 180,321 191,331 202,342 214,346 225,342 229,334 240,323 251,325 255,331" fill="none" stroke="#000" stroke-width="1" stroke-linejoin="round" stroke-linecap="round" />
<polyline points="154,353 159,362 169,364 180,361 187,366 195,370 206,364 219,361 221,349 225,342" fill="none" stroke="#000" stroke-width="1" stroke-linejoin="round" stroke-linecap="round" />
<polyline points="195,370 206,381 199,389 189,387 184,394 172,392 163,398 163,409 154,417 156,424 146,430" fill="none" stroke="#000" stroke-width="1" stroke-linejoin="round" stroke-linecap="round" />
<polyline points="184,394 191,404 206,407 212,411 216,422 217,437 219,445 221,454 229,460 240,466" fill="none" stroke="#000" stroke-width="1" stroke-linejoin="round" stroke-linecap="round" />
<polyline points="163,409 176,415 182,422 184,434 169,439 160,445" fill="none" stroke="#000" stroke-width="1" stroke-linejoin="round" stroke-linecap="round" />
<polyline points="148,439 154,447 165,451 172,458 180,464 184,475 191,479 202,486 206,496 214,502" fill="none" stroke="#000" stroke-width="1" stroke-linejoin="round" stroke-linecap="round" />
<polyline points="184,434 195,428 206,428 216,431" fill="none" stroke="#000" stroke-width="1" stroke-linejoin="round" stroke-linecap="round" />
<polyline points="142,502 142,482 154,477 165,481 172,488 184,477" fill="none" stroke="#000" stroke-width="1" stroke-linejoin="round" stroke-linecap="round" />
<polyline points="219,445 225,439 232,430 234,422 247,415 255,406 266,411 276,419 283,411 285,398 294,383 298,377" fill="none" stroke="#000" stroke-width="1" stroke-linejoin="round" stroke-linecap="round" />
<polyline points="255,331 250,340 242,355 247,374 251,366 262,364 274,370 285,370 294,376" fill="none" stroke="#000" stroke-width="1" stroke-linejoin="round" stroke-linecap="round" />
<polyline points="255,331 266,329 274,321 285,314 292,310" fill="none" stroke="#000" stroke-width="1" stroke-linejoin="round" stroke-linecap="round" />
<polyline points="285,370 285,357 294,355 300,359" fill="none" stroke="#000" stroke-width="1" stroke-linejoin="round" stroke-linecap="round" />
<polyline points="276,419 274,430 268,441 270,460 264,466 257,458 252,464 246,466 240,466" fill="none" stroke="#000" stroke-width="1" stroke-linejoin="round" stroke-linecap="round" />
<polyline points="264,466 272,473 279,479 285,486 296,488" fill="none" stroke="#000" stroke-width="1" stroke-linejoin="round" stroke-linecap="round" />
<polyline points="240,466 247,473 249,481 232,486 229,497 216,502" fill="none" stroke="#000" stroke-width="1" stroke-linejoin="round" stroke-linecap="round" />
<polyline points="63,560 69,559 67,550 77,544 92,536 96,542 97,556 105,558 111,543 118,545 129,541 141,543 154,540 161,544 159,549 172,552 177,559 186,564 189,574 191,584 192,595 197,587 202,595 206,604 216,602 229,602 234,606 236,612 249,610 253,621 257,629 264,634 272,631 281,638 292,640 300,631" fill="none" stroke="#000" stroke-width="1" stroke-linejoin="round" stroke-linecap="round" />
<polyline points="67,490 74,497 71,511 79,514 81,522 88,524 92,536" fill="none" stroke="#000" stroke-width="1" stroke-linejoin="round" stroke-linecap="round" />
<polyline points="142,490 141,507 148,514 152,527 157,537" fill="none" stroke="#000" stroke-width="1" stroke-linejoin="round" stroke-linecap="round" />
<polyline points="154,540 169,535 176,526 187,522 195,512 206,501 212,496 206,490" fill="none" stroke="#000" stroke-width="1" stroke-linejoin="round" stroke-linecap="round" />
<polyline points="212,496 217,505 219,518 223,531 227,544 229,552 227,563 236,563 238,571 234,576 238,584 236,591 247,592 257,597 264,599 268,589 276,587 283,589 291,595 285,604" fill="none" stroke="#000" stroke-width="1" stroke-linejoin="round" stroke-linecap="round" />
<polyline points="219,518 223,505 231,496 229,490" fill="none" stroke="#000" stroke-width="1" stroke-linejoin="round" stroke-linecap="round" />
<polyline points="276,587 274,576 279,565 283,556 292,550 300,548" fill="none" stroke="#000" stroke-width="1" stroke-linejoin="round" stroke-linecap="round" />
<polyline points="279,511 277,520 285,524 289,514 279,511" fill="none" stroke="#000" stroke-width="1" stroke-linejoin="round" stroke-linecap="round" />
<polyline points="300,200 307,212 317,227 330,231 365,229 380,237 400,247 420,260 440,269 452,266 470,257 482,250 490,240" fill="none" stroke="#000" stroke-width="1" stroke-linejoin="round" stroke-linecap="round" />
<polyline points="330,231 320,245 325,260 320,270 310,262 300,260" fill="none" stroke="#000" stroke-width="1" stroke-linejoin="round" stroke-linecap="round" />
<polyline points="482,250 487,265 480,275 460,285 440,300 435,305 417,312 405,310 400,327 392,337 385,350 380,370 375,380 380,386" fill="none" stroke="#000" stroke-width="1" stroke-linejoin="round" stroke-linecap="round" />
<polyline points="435,305 436,320 430,327 437,337 460,342 470,350 480,355 490,351 500,357 507,362 505,375 512,386" fill="none" stroke="#000" stroke-width="1" stroke-linejoin="round" stroke-linecap="round" />
<polyline points="300,357 305,367 320,372 335,370 350,380 375,380" fill="none" stroke="#000" stroke-width="1" stroke-linejoin="round" stroke-linecap="round" />
<polyline points="810,120 825,138 835,150 842,155 840,168 832,178 830,190 832,198 822,205 812,215 817,220 825,228 830,240 837,255 832,273 840,280 845,293 855,303 852,315 857,325 875,323" fill="none" stroke="#000" stroke-width="1" stroke-linejoin="round" stroke-linecap="round" />
<polyline points="812,215 800,220 785,225 770,225 760,224 747,230 735,248 725,263 715,273 707,293 700,305 692,318 687,328 685,344" fill="none" stroke="#000" stroke-width="1" stroke-linejoin="round" stroke-linecap="round" />
<polyline points="707,293 687,299 670,298 662,285 654,285 647,303 637,290 627,280 630,263 622,253 607,248 600,238" fill="none" stroke="#000" stroke-width="1" stroke-linejoin="round" stroke-linecap="round" />
<polyline points="610,193 605,208 615,220 607,235" fill="none" stroke="#000" stroke-width="1" stroke-linejoin="round" stroke-linecap="round" />
<polyline points="627,280 622,288 627,313 632,325 637,344" fill="none" stroke="#000" stroke-width="1" stroke-linejoin="round" stroke-linecap="round" />
<polyline points="1195,92 1196,103 1185,115 1177,125 1161,128 1162,133 1172,148 1171,165 1182,175 1195,185 1200,190 1195,198 1194,213 1187,228 1171,243 1170,258 1180,268 1175,280 1187,288 1192,298 1200,300" fill="none" stroke="#000" stroke-width="1" stroke-linejoin="round" stroke-linecap="round" />
<polyline points="387,344 382,359 377,376 395,389 402,404 402,426 400,449 410,456 415,474 422,480 430,474 450,469 465,459 475,461 490,469 500,481 507,494 520,499 530,494 540,489 550,484 557,469 560,456 575,454 590,459 602,459 610,454 620,451" fill="none" stroke="#000" stroke-width="1" stroke-linejoin="round" stroke-linecap="round" />
<polyline points="377,376 362,374 345,369 325,371 317,381 310,396 312,414 300,421" fill="none" stroke="#000" stroke-width="1" stroke-linejoin="round" stroke-linecap="round" />
<polyline points="377,376 367,394 360,409 342,419 340,434 342,446 330,454 315,464 312,471 300,474" fill="none" stroke="#000" stroke-width="1" stroke-linejoin="round" stroke-linecap="round" />
<polyline points="470,344 470,351 487,354 505,359 507,371 512,384 525,386 537,396 557,401 570,411 582,416 595,414 605,404 615,409 620,414" fill="none" stroke="#000" stroke-width="1" stroke-linejoin="round" stroke-linecap="round" />
<polyline points="415,474 417,491 400,499 395,516 390,529 397,539 410,544 420,546 435,564 450,574 460,576" fill="none" stroke="#000" stroke-width="1" stroke-linejoin="round" stroke-linecap="round" />
<polyline points="395,516 380,516 365,511 352,514 350,529 355,544 352,556 347,566" fill="none" stroke="#000" stroke-width="1" stroke-linejoin="round" stroke-linecap="round" />
<polyline points="475,529 465,524 472,509 477,499 480,509 495,514 507,514 520,511 530,504 530,494" fill="none" stroke="#000" stroke-width="1" stroke-linejoin="round" stroke-linecap="round" />
<polyline points="530,504 532,524 537,541 535,564 525,571 520,584 520,600" fill="none" stroke="#000" stroke-width="1" stroke-linejoin="round" stroke-linecap="round" />
<polyline points="537,541 562,546 580,551 590,566 607,564 620,571" fill="none" stroke="#000" stroke-width="1" stroke-linejoin="round" stroke-linecap="round" />
<polyline points="300,504 315,499 325,506 337,509 350,516" fill="none" stroke="#000" stroke-width="1" stroke-linejoin="round" stroke-linecap="round" />
<polyline points="642,344 645,356 657,361 660,376 652,391 655,404 647,419 645,434 660,441 657,451 642,459 630,454 620,466" fill="none" stroke="#000" stroke-width="1" stroke-linejoin="round" stroke-linecap="round" />
<polyline points="642,459 650,474 652,481 675,484 685,494 697,496 692,509 690,519 705,526 707,536 700,549 702,559 710,574 714,584 707,591 703,600" fill="none" stroke="#000" stroke-width="1" stroke-linejoin="round" stroke-linecap="round" />
<polyline points="620,410 630,414 637,419 647,419" fill="none" stroke="#000" stroke-width="1" stroke-linejoin="round" stroke-linecap="round" />
<polyline points="687,344 692,351 690,359 702,361 707,369 720,368 722,376 720,391 722,404 715,414 710,424 717,429 715,439 725,454 732,451 737,441 742,439 740,444 755,441 762,439 770,444 772,454 770,464 775,474 790,475 800,466 815,461 820,454 827,451 837,455 847,454 860,453 865,466 860,484 857,494 852,501 855,509 850,510 837,500 835,506 817,511 815,529 820,541 822,551 812,561 815,576 814,600" fill="none" stroke="#000" stroke-width="1" stroke-linejoin="round" stroke-linecap="round" />
<polyline points="865,466 870,456 880,464 892,466 895,454 890,441 887,431 880,419 872,414 870,401 880,386 880,366 870,359 872,344" fill="none" stroke="#000" stroke-width="1" stroke-linejoin="round" stroke-linecap="round" />
<polyline points="902,344 907,356 920,369 930,386 935,409 940,426" fill="none" stroke="#000" stroke-width="1" stroke-linejoin="round" stroke-linecap="round" />
<polyline points="902,594 907,586 917,589 925,576 930,586 940,584" fill="none" stroke="#000" stroke-width="1" stroke-linejoin="round" stroke-linecap="round" />
<polyline points="620,569 630,566 632,581 640,579 647,576 660,571 670,564" fill="none" stroke="#000" stroke-width="1" stroke-linejoin="round" stroke-linecap="round" />
<polyline points="647,576 650,600" fill="none" stroke="#000" stroke-width="1" stroke-linejoin="round" stroke-linecap="round" />
<polyline points="960,419 970,407 977,417 982,402" fill="none" stroke="#000" stroke-width="1" stroke-linejoin="round" stroke-linecap="round" />
<polyline points="1042,412 1055,417 1056,427 1040,432 1037,445 1027,450 1020,457 1002,462 987,465 985,475 972,477 962,492 970,505 975,512" fill="none" stroke="#000" stroke-width="1" stroke-linejoin="round" stroke-linecap="round" />
<polyline points="1037,445 1047,457 1060,467 1072,472 1080,480 1075,490 1067,500 1060,517 1057,525 1067,535 1070,545 1065,555 1055,565 1047,575 1042,590 1030,597 1015,610 1010,617 1012,630 1020,635 1015,650" fill="none" stroke="#000" stroke-width="1" stroke-linejoin="round" stroke-linecap="round" />
<polyline points="1097,422 1110,415 1122,420 1130,425 1135,435 1145,440 1140,447 1150,452 1157,460" fill="none" stroke="#000" stroke-width="1" stroke-linejoin="round" stroke-linecap="round" />
<polyline points="1157,460 1147,472 1145,487 1160,495 1164,510 1165,530 1172,550 1172,560 1165,575 1162,582 1135,584 1130,590 1120,592 1100,597 1095,612 1085,625 1075,635 1065,645 1055,652" fill="none" stroke="#000" stroke-width="1" stroke-linejoin="round" stroke-linecap="round" />
<polyline points="1090,562 1110,560 1112,572 1120,575 1115,585 1100,592 1085,600 1070,600 1070,590 1082,582 1085,572 1090,562" fill="none" stroke="#000" stroke-width="1" stroke-linejoin="round" stroke-linecap="round" />
<polyline points="987,363 1002,361 1015,368 1025,366 1037,366 1045,378 1057,388 1070,401 1082,411 1095,418 1100,426" fill="none" stroke="#000" stroke-width="1" stroke-linejoin="round" stroke-linecap="round" />
<polyline points="987,363 985,381 982,401 975,416 967,406 960,418" fill="none" stroke="#000" stroke-width="1" stroke-linejoin="round" stroke-linecap="round" />
<polyline points="1040,391 1055,383 1070,401" fill="none" stroke="#000" stroke-width="1" stroke-linejoin="round" stroke-linecap="round" />
<polyline points="1085,401 1100,393 1120,388 1135,383 1150,386 1165,376 1175,366 1185,356 1197,353" fill="none" stroke="#000" stroke-width="1" stroke-linejoin="round" stroke-linecap="round" />
<polyline points="1040,396 1052,411 1055,426 1040,431 1030,441" fill="none" stroke="#000" stroke-width="1" stroke-linejoin="round" stroke-linecap="round" />
<polyline points="522,600 525,612" fill="none" stroke="#000" stroke-width="1" stroke-linejoin="round" stroke-linecap="round" />
<polyline points="550,642 555,637 575,630 595,620 607,630 620,640" fill="none" stroke="#000" stroke-width="1" stroke-linejoin="round" stroke-linecap="round" />
<polyline points="652,600 655,617 665,622 675,632 680,645 682,660 687,665 702,665 707,670 715,667 717,657 712,647 715,627 710,617 702,617 705,600" fill="none" stroke="#000" stroke-width="1" stroke-linejoin="round" stroke-linecap="round" />
<polyline points="682,660 677,672 670,682 665,692 650,697 640,705" fill="none" stroke="#000" stroke-width="1" stroke-linejoin="round" stroke-linecap="round" />
<polyline points="700,682 712,692 720,705 730,715 727,722 732,727" fill="none" stroke="#000" stroke-width="1" stroke-linejoin="round" stroke-linecap="round" />
<polyline points="732,600 737,610 747,622 755,635 750,647 742,660 740,670 730,677 725,687 715,690" fill="none" stroke="#000" stroke-width="1" stroke-linejoin="round" stroke-linecap="round" />
<polyline points="795,630 790,647 785,660 777,672 772,680" fill="none" stroke="#000" stroke-width="1" stroke-linejoin="round" stroke-linecap="round" />
<polyline points="805,600 810,610 820,617 827,615 840,620 850,625 860,622 870,615 877,610 885,617 895,622 915,630 927,632 940,642" fill="none" stroke="#000" stroke-width="1" stroke-linejoin="round" stroke-linecap="round" />
<polyline points="860,622 857,637 862,647" fill="none" stroke="#000" stroke-width="1" stroke-linejoin="round" stroke-linecap="round" />
<polyline points="795,630 805,627 815,622 820,617" fill="none" stroke="#000" stroke-width="1" stroke-linejoin="round" stroke-linecap="round" />
<polyline points="1157,459 1167,446 1180,438 1197,433 1217,432" fill="none" stroke="#000" stroke-width="1.6" stroke-linejoin="round" stroke-linecap="round" />
<polyline points="315,565 325,565 337,570 350,570 365,573 380,570 400,573 415,566 430,564 440,569 450,576 457,578 460,594 458,600" fill="none" stroke="#000" stroke-width="1.6" stroke-linejoin="round" stroke-linecap="round" />
<polyline points="300,631 297,627 290,621 288,612 282,606 288,602 301,600 299,591 307,586 322,591 314,584 316,576 312,572 315,565" fill="none" stroke="#000" stroke-width="1.6" stroke-linejoin="round" stroke-linecap="round" />
<polyline points="455,602 470,607 475,612 485,617 492,617 485,627 500,630 510,622 525,615 537,612 532,620 540,632 550,642 555,655 562,672 570,690 577,710 585,700 595,700 600,710 620,712 630,707 635,712 642,725 657,735 660,742 672,745 682,737 687,747 695,752 705,752 707,745 722,742 730,735 732,727 745,720 755,712 767,702 780,702 795,702 805,705 807,715 825,715 840,712 855,710 860,702 867,695 865,687 857,682 855,672 860,660 862,647 877,650 895,652 917,652 922,665 940,672 960,660 985,652 1010,654 1032,662 1055,652" fill="none" stroke="#000" stroke-width="1.6" stroke-linejoin="round" stroke-linecap="round" />
<polyline points="470,91 455,100 445,110 430,122 420,130 418,135 421,142 427,162 440,175 445,174 442,157 445,140 452,130 460,120 480,105 500,95 512,91" fill="none" stroke="#000" stroke-width="2.6" stroke-linejoin="round" stroke-linecap="round" />
<polyline points="300,197 307,180 315,172 325,162 326,152 337,162 339,175 330,181 319,184 320,197 327,205 340,202 342,196 362,196 382,197 405,196 407,201 395,207 400,215 417,216 427,219 440,215 436,225 440,230 444,225 455,225 457,212 456,187 450,186 450,195 460,202 475,215 487,230 500,245 507,261 515,255 517,245 512,237 507,225 512,205 517,192 532,180 542,160 550,149 557,147 560,157 564,175 555,195 560,210 562,230 560,250 561,270 560,285 542,305 527,316 525,310 540,290 550,275 552,255 547,235 550,212 552,195" fill="none" stroke="#000" stroke-width="2.6" stroke-linejoin="round" stroke-linecap="round" />
<polyline points="362,167 370,164 377,166 380,175 372,180 364,177 362,167" fill="none" stroke="#000" stroke-width="2.6" stroke-linejoin="round" stroke-linecap="round" />
<polyline points="562,260 570,252 582,257 587,270 582,285 595,295" fill="none" stroke="#000" stroke-width="2.6" stroke-linejoin="round" stroke-linecap="round" />
<polyline points="575,160 582,175 580,200 595,212 602,215" fill="none" stroke="#000" stroke-width="2.6" stroke-linejoin="round" stroke-linecap="round" />
<polyline points="585,187 597,175 607,180 600,195 590,192" fill="none" stroke="#000" stroke-width="2.6" stroke-linejoin="round" stroke-linecap="round" />
<polyline points="612,187 605,212 610,230 602,240 607,252 620,255" fill="none" stroke="#000" stroke-width="2.6" stroke-linejoin="round" stroke-linecap="round" />
<polyline points="687,92 675,103 660,115 652,125 650,135 660,145 655,153 640,152 617,155 616,170 622,185 625,195 635,198 632,213 637,228 640,243 642,248" fill="none" stroke="#000" stroke-width="2.6" stroke-linejoin="round" stroke-linecap="round" />
<polyline points="600,180 612,185 625,195" fill="none" stroke="#000" stroke-width="2.6" stroke-linejoin="round" stroke-linecap="round" />
<polyline points="792,92 790,113 784,130 781,144 790,133 805,118 807,105 802,92" fill="none" stroke="#000" stroke-width="2.6" stroke-linejoin="round" stroke-linecap="round" />
<polyline points="807,98 820,108 830,95 835,92" fill="none" stroke="#000" stroke-width="2.6" stroke-linejoin="round" stroke-linecap="round" />
<polyline points="95,200 105,175 112,170 125,172 126,195 122,205 110,210 100,205 95,200" fill="none" stroke="#000" stroke-width="2.6" stroke-linejoin="round" stroke-linecap="round" />
<polyline points="150,230 155,212 162,197 172,187 174,200 162,220 155,231 150,230" fill="none" stroke="#000" stroke-width="2.6" stroke-linejoin="round" stroke-linecap="round" />
<polyline points="62,137 77,150 85,165 82,180 86,192" fill="none" stroke="#000" stroke-width="2.6" stroke-linejoin="round" stroke-linecap="round" />
<polyline points="205,157 225,145 230,120 234,100 240,130 250,155 265,170 280,172 292,160 295,125 290,92" fill="none" stroke="#000" stroke-width="2.6" stroke-linejoin="round" stroke-linecap="round" />
<polyline points="205,157 205,185 215,197 220,185 217,170 230,172 245,205 252,190 260,182 287,184 292,200 300,196" fill="none" stroke="#000" stroke-width="2.6" stroke-linejoin="round" stroke-linecap="round" />
<polyline points="361,171 366,163 375,162 380,168 378,177 368,180 361,171" fill="none" stroke="#000" stroke-width="2.6" stroke-linejoin="round" stroke-linecap="round" />
<polyline points="982,505 977,512 980,529 980,546 976,564 971,585 965,604 961,619 950,628 939,637 939,641 952,640 965,628 971,620 972,606 987,587 993,570 996,555 994,540 989,525 986,510 982,505" fill="none" stroke="#000" stroke-width="2.6" stroke-linejoin="round" stroke-linecap="round" />
<polyline points="477,807 455,817 449,830 456,850 464,823 480,817 497,814 512,820 527,817 537,824 547,823 556,817 546,814 537,818 525,814 500,808 482,809 477,807" fill="none" stroke="#000" stroke-width="2.6" stroke-linejoin="round" stroke-linecap="round" />
<polyline points="167,791 172,767 178,756 191,749 199,741 210,745 220,737 224,743 229,736 238,737 243,742 255,741 246,749 236,758 238,775 241,785 227,789 223,799 204,810 193,808 167,791" fill="none" stroke="#000" stroke-width="2.6" stroke-linejoin="round" stroke-linecap="round" />
<polyline points="62,634 79,640 96,638 103,646 118,657 122,668 125,680 124,687 118,706" fill="none" stroke="#000" stroke-width="2.6" stroke-linejoin="round" stroke-linecap="round" />
<polyline points="62,706 66,691 79,690 90,694 97,706 113,714" fill="none" stroke="#000" stroke-width="2.6" stroke-linejoin="round" stroke-linecap="round" />
<polyline points="62,782 67,784 73,822 62,825" fill="none" stroke="#000" stroke-width="2.6" stroke-linejoin="round" stroke-linecap="round" />
</g>
<rect x="729" y="207" width="40" height="21" fill="#fff"/>
<text class="l" x="732" y="225.8" textLength="34.6" lengthAdjust="spacingAndGlyphs">−36</text>
<rect x="1039" y="180" width="39" height="21" fill="#fff"/>
<text class="l" x="1042" y="198.8" textLength="33.6" lengthAdjust="spacingAndGlyphs">−40</text>
<rect x="1126" y="214" width="39" height="21" fill="#fff"/>
<text class="l" x="1129" y="232.8" textLength="33.6" lengthAdjust="spacingAndGlyphs">−36</text>
<rect x="929" y="270" width="40" height="21" fill="#fff"/>
<text class="l" x="932" y="288.8" textLength="34.6" lengthAdjust="spacingAndGlyphs">−40</text>
<rect x="470" y="239" width="38" height="21" fill="#fff"/>
<text class="l" x="473" y="257.8" textLength="32.6" lengthAdjust="spacingAndGlyphs">−32</text>
<rect x="495" y="291" width="38" height="20" fill="#fff"/>
<text class="l" x="498" y="308.8" textLength="32.6" lengthAdjust="spacingAndGlyphs">−28</text>
<rect x="863" y="316" width="39" height="21" fill="#fff"/>
<text class="l" x="866" y="334.8" textLength="33.6" lengthAdjust="spacingAndGlyphs">−36</text>
<rect x="730" y="320" width="39" height="21" fill="#fff"/>
<text class="l" x="733" y="338.8" textLength="33.6" lengthAdjust="spacingAndGlyphs">−32</text>
<rect x="545" y="357" width="39" height="21" fill="#fff"/>
<text class="l" x="548" y="375.8" textLength="33.6" lengthAdjust="spacingAndGlyphs">−24</text>
<rect x="1143" y="373" width="39" height="22" fill="#fff"/>
<text class="l" x="1146" y="392.8" textLength="33.6" lengthAdjust="spacingAndGlyphs">−40</text>
<rect x="491" y="430" width="39" height="20" fill="#fff"/>
<text class="l" x="494" y="447.8" textLength="33.6" lengthAdjust="spacingAndGlyphs">−20</text>
<rect x="289" y="495" width="38" height="21" fill="#fff"/>
<text class="l" x="292" y="513.8" textLength="32.6" lengthAdjust="spacingAndGlyphs">−24</text>
<rect x="1067" y="507" width="40" height="21" fill="#fff"/>
<text class="l" x="1070" y="525.8" textLength="34.6" lengthAdjust="spacingAndGlyphs">−36</text>
<rect x="998" y="541" width="38" height="21" fill="#fff"/>
<text class="l" x="1001" y="559.8" textLength="32.6" lengthAdjust="spacingAndGlyphs">−32</text>
<rect x="403" y="547" width="39" height="21" fill="#fff"/>
<text class="l" x="406" y="565.8" textLength="33.6" lengthAdjust="spacingAndGlyphs">−20</text>
<rect x="488" y="571" width="39" height="21" fill="#fff"/>
<text class="l" x="491" y="589.8" textLength="33.6" lengthAdjust="spacingAndGlyphs">−20</text>
<rect x="740" y="606" width="40" height="21" fill="#fff"/>
<text class="l" x="743" y="624.8" textLength="34.6" lengthAdjust="spacingAndGlyphs">−20</text>
<rect x="624" y="621" width="39" height="21" fill="#fff"/>
<text class="l" x="627" y="639.8" textLength="33.6" lengthAdjust="spacingAndGlyphs">−20</text>
<rect x="1077" y="680" width="39" height="20" fill="#fff"/>
<text class="l" x="1080" y="697.8" textLength="33.6" lengthAdjust="spacingAndGlyphs">−28</text>
<rect x="946" y="702" width="39" height="21" fill="#fff"/>
<text class="l" x="949" y="720.8" textLength="33.6" lengthAdjust="spacingAndGlyphs">−24</text>
<rect x="115" y="707" width="38" height="21" fill="#fff"/>
<text class="l" x="118" y="725.8" textLength="32.6" lengthAdjust="spacingAndGlyphs">−28</text>
<rect x="273" y="711" width="39" height="21" fill="#fff"/>
<text class="l" x="276" y="729.8" textLength="33.6" lengthAdjust="spacingAndGlyphs">−20</text>
<rect x="645" y="727" width="40" height="21" fill="#fff"/>
<text class="l" x="648" y="745.8" textLength="34.6" lengthAdjust="spacingAndGlyphs">−20</text>
<rect x="125" y="751" width="38" height="20" fill="#fff"/>
<text class="l" x="128" y="768.8" textLength="32.6" lengthAdjust="spacingAndGlyphs">−24</text>
<rect x="883" y="766" width="39" height="21" fill="#fff"/>
<text class="l" x="886" y="784.8" textLength="33.6" lengthAdjust="spacingAndGlyphs">−20</text>
<rect x="678" y="779" width="40" height="21" fill="#fff"/>
<text class="l" x="681" y="797.8" textLength="34.6" lengthAdjust="spacingAndGlyphs">−20</text>
<rect x="589" y="822" width="39" height="21" fill="#fff"/>
<text class="l" x="592" y="840.8" textLength="33.6" lengthAdjust="spacingAndGlyphs">−20</text>
<rect x="760" y="846" width="40" height="20" fill="#fff"/>
<text class="l" x="763" y="863.8" textLength="34.6" lengthAdjust="spacingAndGlyphs">−20</text>
<rect x="1128" y="856" width="39" height="21" fill="#fff"/>
<text class="l" x="1131" y="874.8" textLength="33.6" lengthAdjust="spacingAndGlyphs">−24</text>
<rect x="863" y="862" width="39" height="21" fill="#fff"/>
<text class="l" x="866" y="880.8" textLength="33.6" lengthAdjust="spacingAndGlyphs">−20</text>
<rect x="356" y="900" width="40" height="21" fill="#fff"/>
<text class="l" x="359" y="918.8" textLength="34.6" lengthAdjust="spacingAndGlyphs">−16</text>
<rect x="428" y="899" width="39" height="21" fill="#fff"/>
<text class="l" x="431" y="917.8" textLength="33.6" lengthAdjust="spacingAndGlyphs">−16</text>
<circle cx="674" cy="252" r="3.4" fill="#000"/>
<text class="c" x="680" y="254" textLength="68" lengthAdjust="spacingAndGlyphs">Норильск</text>
<circle cx="482" cy="295" r="3.4" fill="#000"/>
<text class="c" x="472" y="315" textLength="68" lengthAdjust="spacingAndGlyphs">Салехард</text>
<circle cx="802" cy="350" r="3.4" fill="#000"/>
<text class="c" x="808" y="353" textLength="32" lengthAdjust="spacingAndGlyphs">Тура</text>
<circle cx="1094" cy="231" r="3.4" fill="#000"/>
<text class="c" x="1101" y="232" textLength="47" lengthAdjust="spacingAndGlyphs">Якутск</text>
<circle cx="469" cy="432" r="3.4" fill="#000"/>
<text class="c" x="476" y="428" textLength="122" lengthAdjust="spacingAndGlyphs">Ханты-Мансийск</text>
<circle cx="338" cy="494" r="3.4" fill="#000"/>
<text class="c" x="315" y="489.5" textLength="94" lengthAdjust="spacingAndGlyphs">Екатеринбург</text>
<circle cx="402" cy="510" r="3.4" fill="#000"/>
<text class="c" x="408" y="512" textLength="47" lengthAdjust="spacingAndGlyphs">Тюмень</text>
<circle cx="333" cy="537" r="3.4" fill="#000"/>
<text class="c" x="255" y="542" textLength="75" lengthAdjust="spacingAndGlyphs">Челябинск</text>
<circle cx="386" cy="550" r="3.4" fill="#000"/>
<text class="c" x="333" y="562" textLength="49" lengthAdjust="spacingAndGlyphs">Курган</text>
<circle cx="491" cy="591" r="3.4" fill="#000"/>
<text class="c" x="452" y="593" textLength="34" lengthAdjust="spacingAndGlyphs">Омск</text>
<circle cx="625" cy="604" r="3.4" fill="#000"/>
<text class="c" x="529" y="599" textLength="91" lengthAdjust="spacingAndGlyphs">Новосибирск</text>
<circle cx="652" cy="567" r="3.4" fill="#000"/>
<text class="c" x="658" y="565" textLength="40" lengthAdjust="spacingAndGlyphs">Томск</text>
<circle cx="668" cy="595" r="3.4" fill="#000"/>
<text class="c" x="674" y="597" textLength="68" lengthAdjust="spacingAndGlyphs">Кемерово</text>
<circle cx="761" cy="570" r="3.4" fill="#000"/>
<text class="c" x="767" y="571" textLength="85" lengthAdjust="spacingAndGlyphs">Красноярск</text>
<circle cx="637" cy="647" r="3.4" fill="#000"/>
<text class="c" x="570" y="651" textLength="60" lengthAdjust="spacingAndGlyphs">Барнаул</text>
<circle cx="748" cy="630" r="3.4" fill="#000"/>
<text class="c" x="753" y="631" textLength="52" lengthAdjust="spacingAndGlyphs">Абакан</text>
<circle cx="670" cy="682" r="3.4" fill="#000"/>
<text class="c" x="676" y="683" textLength="114" lengthAdjust="spacingAndGlyphs">Горно-Алтайск</text>
<circle cx="800" cy="673" r="3.4" fill="#000"/>
<text class="c" x="806" y="674" textLength="44" lengthAdjust="spacingAndGlyphs">Кызыл</text>
<circle cx="942" cy="618" r="3.4" fill="#000"/>
<text class="c" x="948" y="624" textLength="57" lengthAdjust="spacingAndGlyphs">Иркутск</text>
<circle cx="1072" cy="563" r="3.4" fill="#000"/>
<text class="c" x="1078" y="564" textLength="34" lengthAdjust="spacingAndGlyphs">Чита</text>
<text class="b" x="1220.7" y="183.7" textLength="16.6" lengthAdjust="spacingAndGlyphs">28</text>
<text class="b" x="1220.7" y="205.9" textLength="16.6" lengthAdjust="spacingAndGlyphs">24</text>
<text class="b" x="1220.7" y="228.2" textLength="16.6" lengthAdjust="spacingAndGlyphs">20</text>
<text class="b" x="1220.7" y="250.4" textLength="16.6" lengthAdjust="spacingAndGlyphs">16</text>
<text class="b" x="1220.7" y="272.7" textLength="16.6" lengthAdjust="spacingAndGlyphs">12</text>
<text class="b" x="1220.7" y="294.9" textLength="8.3" lengthAdjust="spacingAndGlyphs">8</text>
<text class="b" x="1220.7" y="317.1" textLength="8.3" lengthAdjust="spacingAndGlyphs">4</text>
<text class="b" x="1220.7" y="339.4" textLength="8.3" lengthAdjust="spacingAndGlyphs">0</text>
<text class="b" x="1220.7" y="361.6" textLength="20" lengthAdjust="spacingAndGlyphs">−4</text>
<text class="b" x="1220.7" y="383.9" textLength="20" lengthAdjust="spacingAndGlyphs">−8</text>
<text class="b" x="1220.7" y="406.1" textLength="28.3" lengthAdjust="spacingAndGlyphs">−12</text>
<text class="b" x="1220.7" y="428.4" textLength="28.3" lengthAdjust="spacingAndGlyphs">−16</text>
<text class="b" x="1220.7" y="450.6" textLength="28.3" lengthAdjust="spacingAndGlyphs">−20</text>
<text class="b" x="1220.7" y="472.8" textLength="28.3" lengthAdjust="spacingAndGlyphs">−24</text>
<text class="b" x="1220.7" y="495.1" textLength="28.3" lengthAdjust="spacingAndGlyphs">−28</text>
<text class="b" x="1220.7" y="517.3" textLength="28.3" lengthAdjust="spacingAndGlyphs">−32</text>
<text class="b" x="1220.7" y="539.6" textLength="28.3" lengthAdjust="spacingAndGlyphs">−36</text>
<text class="b" x="1220.7" y="561.8" textLength="28.3" lengthAdjust="spacingAndGlyphs">−40</text>
<text class="b" x="1220.7" y="584" textLength="28.3" lengthAdjust="spacingAndGlyphs">−44</text>
<text class="b" x="1220.7" y="606.3" textLength="28.3" lengthAdjust="spacingAndGlyphs">−48</text>
<text class="b" x="1220.7" y="628.5" textLength="28.3" lengthAdjust="spacingAndGlyphs">−52</text>
<text class="b" x="1220.7" y="650.8" textLength="28.3" lengthAdjust="spacingAndGlyphs">−56</text>
<text class="b" x="1220.7" y="673" textLength="28.3" lengthAdjust="spacingAndGlyphs">−60</text>
<rect x="62" y="91" width="1155" height="842.5" fill="none" stroke="#000" stroke-width="2"/>
<text class="x" x="134" y="70" font-size="40.5" textLength="106" lengthAdjust="spacingAndGlyphs" >00:00</text>
<text class="x" x="259.5" y="70" font-size="40.5" textLength="108.5" lengthAdjust="spacingAndGlyphs" >31окт</text>
<text class="x" x="390" y="70" font-size="40.5" textLength="95" lengthAdjust="spacingAndGlyphs" >2025</text>
<text class="s" x="503.5" y="70" font-size="44.5" textLength="174" lengthAdjust="spacingAndGlyphs" stroke="#fff" stroke-width="0.7">(UTC+0):</text>
<text class="x" x="696" y="70" font-size="40.5" textLength="233" lengthAdjust="spacingAndGlyphs" >Температура</text>
<text class="x" x="946.6" y="70" font-size="40.5" textLength="45" lengthAdjust="spacingAndGlyphs" >на</text>
<text class="x" x="1006.8" y="70" font-size="40.5" textLength="142.6" lengthAdjust="spacingAndGlyphs" >500гПа</text>
<text class="x" x="63.9" y="971" font-size="25.5" textLength="109.3" lengthAdjust="spacingAndGlyphs" stroke="#000" stroke-width="0.55">Прогноз</text>
<text class="x" x="189.6" y="971" font-size="25.5" textLength="34" lengthAdjust="spacingAndGlyphs" stroke="#000" stroke-width="0.55">на</text>
<text class="x" x="238.6" y="971" font-size="25.5" textLength="78.3" lengthAdjust="spacingAndGlyphs" stroke="#000" stroke-width="0.55">114ч.</text>
<text class="x" x="325.7" y="971" font-size="25.5" textLength="31.7" lengthAdjust="spacingAndGlyphs" stroke="#000" stroke-width="0.55">от</text>
<text class="x" x="372.9" y="971" font-size="25.5" textLength="78.3" lengthAdjust="spacingAndGlyphs" stroke="#000" stroke-width="0.55">06:00</text>
<text class="x" x="467.9" y="971" font-size="25.5" textLength="79.2" lengthAdjust="spacingAndGlyphs" stroke="#000" stroke-width="0.55">26окт</text>
<text class="x" x="564.9" y="971" font-size="25.5" textLength="69.4" lengthAdjust="spacingAndGlyphs" stroke="#000" stroke-width="0.55">2025</text>
<text class="s" x="651.5" y="972" font-size="27.5" textLength="118.5" lengthAdjust="spacingAndGlyphs" >(UTC+0)</text>
<text class="s" x="62" y="1006.5" font-size="28" textLength="199" lengthAdjust="spacingAndGlyphs" stroke="#000" stroke-width="0.35">COSMO−RuSib</text>
<text class="t" x="280" y="1006.8" font-size="25.5" textLength="43" lengthAdjust="spacingAndGlyphs" stroke="#000" stroke-width="0.3">6.6</text>
<text class="x" x="325" y="1006.8" font-size="22" textLength="30.5" lengthAdjust="spacingAndGlyphs" stroke="#000" stroke-width="0.55">км</text>
<rect x="876.5" y="983" width="350" height="35.5" fill="#fff" stroke="#999" stroke-width="1"/>
<line x1="882" y1="1000" x2="918" y2="1000" stroke="#fa3c3c" stroke-width="1.6"/>
<text class="t" x="923" y="1008.2" font-size="21" textLength="138" lengthAdjust="spacingAndGlyphs" >Температура</text>
<text class="t" x="1073" y="1008.2" font-size="21" textLength="25" lengthAdjust="spacingAndGlyphs" >на</text>
<text class="t" x="1111.5" y="1008.2" font-size="21" textLength="80.5" lengthAdjust="spacingAndGlyphs" >500гПа</text>
</svg></body></html>
